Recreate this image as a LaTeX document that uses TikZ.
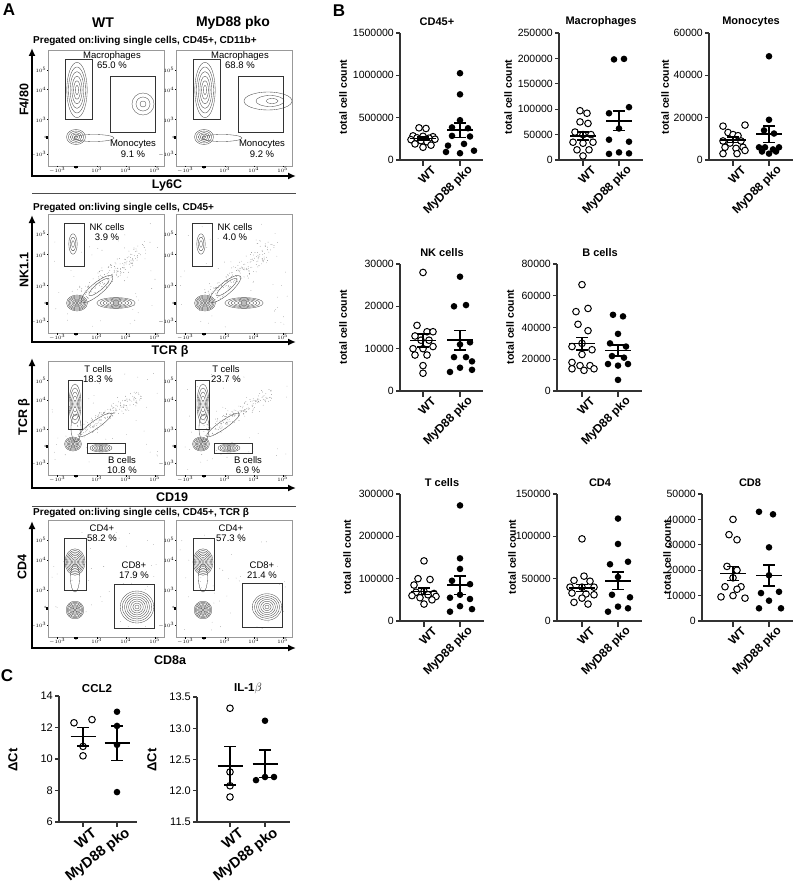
\documentclass[tikz,border=0pt]{standalone}
\usepackage{fontspec}
\setmainfont{Liberation Sans}
\usetikzlibrary{arrows.meta}

\tikzset{
  panellab/.style={inner sep=0pt, font=\fontsize{17}{17}\selectfont\bfseries},
  grouphead/.style={inner sep=0pt, font=\fontsize{14}{14}\selectfont\bfseries},
  pregate/.style={anchor=west, inner sep=0pt, font=\fontsize{10}{10}\selectfont\bfseries},
  flowlab/.style={inner sep=0pt, font=\fontsize{12.5}{12.5}\selectfont\bfseries},
  gatelab/.style={align=center, inner sep=0pt, font=\fontsize{9.5}{10.5}\selectfont},
  flowtick/.style={inner sep=0.4pt, font=\fontsize{3}{3}\selectfont},
  plotbox/.style={draw=black!40, line width=0.5pt},
  gatebox/.style={draw=black!80, line width=0.8pt},
  contour/.style={draw=black!70, line width=0.35pt},
  speck/.style={fill=black!55},
  flowaxis/.style={line width=2pt, {Latex[length=8pt,width=7pt]}-{Latex[length=8pt,width=7pt]}},
  divider/.style={draw=black!70, line width=0.8pt},
  charttitle/.style={inner sep=0pt, font=\fontsize{11}{11}\selectfont\bfseries},
  countlab/.style={rotate=90, inner sep=0pt, font=\fontsize{10.5}{10.5}\selectfont\bfseries},
  ticklab/.style={anchor=east, inner sep=0pt, font=\fontsize{10.5}{10.5}\selectfont},
  grouplab/.style={rotate=45, anchor=east, inner sep=0pt, font=\fontsize{12}{12}\selectfont\bfseries},
  qpcrlab/.style={rotate=38, anchor=east, inner sep=0pt, font=\fontsize{14.5}{14.5}\selectfont\bfseries},
  chartaxis/.style={line width=1.2pt, draw=black!80},
  wtdot/.style={draw=black, fill=white, line width=1pt},
  kodot/.style={fill=black},
  meanline/.style={line width=1.6pt},
}

\begin{document}
\begin{tikzpicture}[x=1pt,y=-1pt]
\useasboundingbox (0,0) rectangle (794,896);
\fill[white] (0,0) rectangle (794,896);
%
% ================= A =================
\node[panellab] (pA) at (9,10) {A};
\node[grouphead] (hwt) at (103,23) {WT};
\node[grouphead] (hko) at (233,23) {MyD88 pko};
\node[pregate] (pre1) at (33,41) {Pregated on:living single cells, CD45+, CD11b+};
\node[pregate] (pre2) at (33,208) {Pregated on:living single cells, CD45+};
\node[pregate] (pre4) at (33,513) {Pregated on:living single cells, CD45+, TCR β};
\draw[divider] (32,193) -- (296,193);
\draw[divider] (32,506) -- (296,506);
%
% flow frames and ticks
\foreach \bx/\by/\bb [count=\p] in {48/50/166,176/50/166,48/214/333,176/214/333,48/361/475,176/361/475,48/520/637,176/520/637}{
  \draw[plotbox] (\bx,\by) rectangle ({\bx+116},\bb);
  \fill ({\bx+26},\bb) rectangle ++(4pt,-2pt);
  \fill (\bx,{\by+0.74*(\bb-\by)}) rectangle ++(-2pt,-3pt);
  \foreach \f/\lab [count=\n] in {0.08/$-10^3$,0.24/0,0.42/$10^3$,0.67/$10^4$,0.92/$10^5$}{
    \draw[line width=0.3pt] ({\bx+\f*116},\bb) -- ++(0pt,-1.5pt);
    \node[flowtick, below] (fx\p-\n) at ({\bx+\f*116},{\bb+1}) {\lab};
  }
  \foreach \f/\lab [count=\n] in {0.17/$10^5$,0.34/$10^4$,0.6/$10^3$,0.75/0,0.9/$-10^3$}{
    \draw[line width=0.3pt] (\bx,{\by+\f*(\bb-\by)}) -- ++(-1.5pt,0pt);
    \node[flowtick, left] (fy\p-\n) at ({\bx-1},{\by+\f*(\bb-\by)}) {\lab};
  }
}
%
% row 1: F4/80 vs Ly6C
\draw[flowaxis] (32,48) -- (32,176) -- (296,176);
\node[flowlab, rotate=90] (f480) at (24,100) {F4/80};
\node[flowlab] (ly6c) at (167,185) {Ly6C};
\foreach \s in {0,128}{
  \begin{scope}[shift={(\s,0)}]
  \foreach \k in {1,...,6} \draw[contour] (77,90) ellipse[x radius=1.7*\k, y radius=4.6*\k];
  \foreach \k in {1,...,5} \draw[contour] (76,137) ellipse[x radius=1.9*\k, y radius=1.5*\k];
  \draw[contour] (94,138) ellipse[x radius=20, y radius=3.5];
  \end{scope}
}
\foreach \r in {3,7,11} \draw[contour] (143,104) circle[radius=\r];
\draw[contour] (268,101) ellipse[x radius=24, y radius=9];
\draw[contour] (270,101) ellipse[x radius=14, y radius=5.5];
\draw[contour] (272,101) ellipse[x radius=6, y radius=2.5];
\draw[gatebox] (65,59) rectangle (92,119);
\draw[gatebox] (110,76) rectangle (155,132);
\draw[gatebox] (193,59) rectangle (220,119);
\draw[gatebox] (238,76) rectangle (283,132);
\node[gatelab] (macwt) at (112,60) {Macrophages\\65.0 \%};
\node[gatelab] (monwt) at (133,149) {Monocytes\\9.1 \%};
\node[gatelab] (macko) at (240,60) {Macrophages\\68.8 \%};
\node[gatelab] (monko) at (262,149) {Monocytes\\9.2 \%};
%
% row 2: NK1.1 vs TCR beta
\draw[flowaxis] (32,215) -- (32,342) -- (296,342);
\node[flowlab, rotate=90] (nk11) at (24,270) {NK1.1};
\node[flowlab] (tcrx) at (170,351) {TCR β};
\pgfmathsetseed{11}
\foreach \s in {0,128}{
  \foreach \i in {1,...,170}{
    \pgfmathsetmacro\ta{rnd}
    \pgfmathsetmacro\px{\s+82+62*\ta+7*rand}
    \pgfmathsetmacro\py{296-48*\ta+8*rand}
    \fill[speck] (\px,\py) circle[radius=0.35pt];
  }
  \foreach \i in {1,...,50}{
    \pgfmathsetmacro\px{\s+52+108*rnd}
    \pgfmathsetmacro\py{222+105*rnd}
    \fill[speck] (\px,\py) circle[radius=0.3pt];
  }
  \begin{scope}[shift={(\s,0)}]
  \foreach \k in {1,...,3} \draw[contour] (73,244) ellipse[x radius=1.4*\k, y radius=3.4*\k];
  \foreach \k in {1,...,8} \draw[contour] (77,303) ellipse[x radius=1.3*\k, y radius=1*\k];
  \foreach \k in {1,...,6} \draw[contour] (116,303) ellipse[x radius=3.2*\k, y radius=0.9*\k];
  \draw[contour, rotate around={40:(97,289)}] (97,289) ellipse[x radius=20, y radius=6];
  \draw[contour, rotate around={40:(99,287)}] (99,287) ellipse[x radius=13, y radius=3.5];
  \end{scope}
}
\draw[gatebox] (64,223) rectangle (84,266);
\draw[gatebox] (192,223) rectangle (212,266);
\node[gatelab] (nkwt) at (107,232) {NK cells\\3.9 \%};
\node[gatelab] (nkko) at (235,232) {NK cells\\4.0 \%};
%
% row 3: TCR beta vs CD19
\draw[flowaxis] (32,358) -- (32,488) -- (296,488);
\node[flowlab, rotate=90] (tcry) at (24,417) {TCR β};
\node[flowlab] (cd19) at (172,497) {CD19};
\pgfmathsetseed{23}
\foreach \s in {0,128}{
  \foreach \i in {1,...,170}{
    \pgfmathsetmacro\ta{rnd}
    \pgfmathsetmacro\px{\s+80+60*\ta+6*rand}
    \pgfmathsetmacro\py{432-38*\ta+6*rand}
    \fill[speck] (\px,\py) circle[radius=0.35pt];
  }
  \foreach \i in {1,...,40}{
    \pgfmathsetmacro\px{\s+52+108*rnd}
    \pgfmathsetmacro\py{370+100*rnd}
    \fill[speck] (\px,\py) circle[radius=0.3pt];
  }
  \begin{scope}[shift={(\s,0)}]
  \foreach \k in {1,...,5} \draw[contour] (75,404) ellipse[x radius=1.2*\k, y radius=4*\k];
  \foreach \k in {1,...,7} \draw[contour] (73,444) ellipse[x radius=1.2*\k, y radius=1*\k];
  \foreach \k in {1,...,5} \draw[contour] (101,448) ellipse[x radius=2.2*\k, y radius=0.8*\k];
  \draw[contour] (76,428) ellipse[x radius=5, y radius=14];
  \draw[contour, rotate around={35:(95,425)}] (95,425) ellipse[x radius=20, y radius=4];
  \end{scope}
}
\draw[gatebox] (68,380) rectangle (82,429);
\draw[gatebox] (87,443) rectangle (125,453);
\draw[gatebox] (195,380) rectangle (209,429);
\draw[gatebox] (214,443) rectangle (252,453);
\node[gatelab] (tcwt) at (98,374) {T cells\\18.3 \%};
\node[gatelab] (bcwt) at (122,465) {B cells\\10.8 \%};
\node[gatelab] (tcko) at (226,374) {T cells\\23.7 \%};
\node[gatelab] (bcko) at (248,465) {B cells\\6.9 \%};
%
% row 4: CD4 vs CD8a
\draw[flowaxis] (32,521) -- (32,648) -- (296,648);
\node[flowlab, rotate=90] (cd4y) at (22,567) {CD4};
\node[flowlab] (cd8x) at (170,660) {CD8a};
\pgfmathsetseed{37}
\foreach \s in {0,128}{
  \foreach \i in {1,...,45}{
    \pgfmathsetmacro\px{\s+52+108*rnd}
    \pgfmathsetmacro\py{530+100*rnd}
    \fill[speck] (\px,\py) circle[radius=0.3pt];
  }
  \begin{scope}[shift={(\s,0)}]
  \foreach \k in {1,...,8} \draw[contour] (75,562) ellipse[x radius=1.25*\k, y radius=1.65*\k];
  \draw[contour] (75,578) ellipse[x radius=4.5, y radius=14];
  \foreach \k in {1,...,8} \draw[contour] (75,610) ellipse[x radius=1.1*\k, y radius=1.1*\k];
  \end{scope}
}
\foreach \k in {1,...,8} \draw[contour] (137,607) ellipse[x radius=2.1*\k, y radius=2*\k];
\foreach \k in {1,...,7} \draw[contour] (267,607) ellipse[x radius=2.1*\k, y radius=1.9*\k];
\draw[gatebox] (64,538) rectangle (86,590);
\draw[gatebox] (114,584) rectangle (154,628);
\draw[gatebox] (193,538) rectangle (214,590);
\draw[gatebox] (242,583) rectangle (282,627);
\node[gatelab] (cd4wt) at (102,533) {CD4+\\58.2 \%};
\node[gatelab] (cd8wt) at (134,570) {CD8+\\17.9 \%};
\node[gatelab] (cd4ko) at (231,533) {CD4+\\57.3 \%};
\node[gatelab] (cd8ko) at (262,570) {CD8+\\21.4 \%};
%
% ================= B =================
\node[panellab] (pB) at (339,11) {B};
%
% CD45+
\node[charttitle] (tcd45) at (437,22) {CD45+};
\node[countlab] (ycd45) at (343,97) {total cell count};
\begin{scope}[shift={(400,160)},y=0.084667pt]
\draw[chartaxis] (0,1500) -- (0,0) -- (83,0);
\foreach \v/\lab [count=\n] in {0/0,500/500000,1000/1000000,1500/1500000}{
  \draw[chartaxis] (0,\v) -- ++(-4pt,0pt);
  \node[ticklab] (cd45t\n) at (-6,\v) {\lab};
}
\draw[chartaxis] (23,0) -- ++(0pt,-6pt) (60,0) -- ++(0pt,-6pt);
\node[grouplab, yshift=-11pt] (cd45wt) at (26,0) {WT};
\node[grouplab, yshift=-11pt] (cd45ko) at (63,0) {MyD88 pko};
\foreach \dx/\v in {-4/380,3/372,-10/285,0/280,10/275,-6/262,6/258,-12/240,12/245,-2/228,4/215,-8/190,8/175,0/150}
  \draw[wtdot] (23+\dx,\v) circle[radius=3.3pt];
\foreach \dx/\v in {0/1025,0/775,0/470,-8/385,8/375,-8/285,10/278,-12/170,4/190,-14/95,14/110,0/80}
  \fill[kodot] (60+\dx,\v) circle[radius=3.3pt];
\draw[meanline] (10,254) -- (36,254) (23,236) -- (23,272) (17,236) -- (29,236) (17,272) -- (29,272);
\draw[meanline] (47,353) -- (73,353) (60,268) -- (60,438) (54,268) -- (66,268) (54,438) -- (66,438);
\end{scope}
%
% Macrophages
\node[charttitle] (tmac) at (601,22) {Macrophages};
\node[countlab] (ymac) at (508,97) {total cell count};
\begin{scope}[shift={(559,160)},y=0.508pt]
\draw[chartaxis] (0,250) -- (0,0) -- (84,0);
\foreach \v/\lab [count=\n] in {0/0,50/50000,100/100000,150/150000,200/200000,250/250000}{
  \draw[chartaxis] (0,\v) -- ++(-4pt,0pt);
  \node[ticklab] (mact\n) at (-6,\v) {\lab};
}
\draw[chartaxis] (24,0) -- ++(0pt,-6pt) (60,0) -- ++(0pt,-6pt);
\node[grouplab, yshift=-11pt] (macwtx) at (27,0) {WT};
\node[grouplab, yshift=-11pt] (packox) at (63,0) {MyD88 pko};
\foreach \dx/\v in {-3/97,4/92,-3/75,5/72,-8/55,0/50,8/50,-10/35,0/33,10/35,-6/20,6/20,0/8}
  \draw[wtdot] (24+\dx,\v) circle[radius=3.3pt];
\foreach \dx/\v in {-5/198,5/199,10/104,-10/92,0/62,-10/40,10/36,-10/12,0/15,10/13}
  \fill[kodot] (60+\dx,\v) circle[radius=3.3pt];
\draw[meanline] (11,47) -- (37,47) (24,39) -- (24,55) (18,39) -- (30,39) (18,55) -- (30,55);
\draw[meanline] (47,77) -- (73,77) (60,58) -- (60,96) (54,58) -- (66,58) (54,96) -- (66,96);
\end{scope}
%
% Monocytes
\node[charttitle] (tmon) at (751,22) {Monocytes};
\node[countlab] (ymon) at (665,97) {total cell count};
\begin{scope}[shift={(709,160)},y=2.11667pt]
\draw[chartaxis] (0,60) -- (0,0) -- (84,0);
\foreach \v/\lab [count=\n] in {0/0,20/20000,40/40000,60/60000}{
  \draw[chartaxis] (0,\v) -- ++(-4pt,0pt);
  \node[ticklab] (mont\n) at (-6,\v) {\lab};
}
\draw[chartaxis] (24,0) -- ++(0pt,-6pt) (60,0) -- ++(0pt,-6pt);
\node[grouplab, yshift=-11pt] (monwtx) at (27,0) {WT};
\node[grouplab, yshift=-11pt] (monkox) at (63,0) {MyD88 pko};
\foreach \dx/\v in {-10/16,12/16.5,-5/13,0/12,5/11.5,-10/9,-3/8,8/9,-8/6,3/5.5,10/6,-10/3,4/3,12/4.5}
  \draw[wtdot] (24+\dx,\v) circle[radius=3.3pt];
\foreach \dx/\v in {0/49,0/19,-5/14,5/12.5,-10/6,-4/6,4/5,10/6,-7/4,7/4,0/3}
  \fill[kodot] (60+\dx,\v) circle[radius=3.3pt];
\draw[meanline] (11,9.5) -- (37,9.5) (24,8.2) -- (24,10.8) (18,8.2) -- (30,8.2) (18,10.8) -- (30,10.8);
\draw[meanline] (47,12.2) -- (73,12.2) (60,8.3) -- (60,16.1) (54,8.3) -- (66,8.3) (54,16.1) -- (66,16.1);
\end{scope}
%
% NK cells
\node[charttitle] (tnk) at (442,253) {NK cells};
\node[countlab] (ynk) at (343,327) {total cell count};
\begin{scope}[shift={(400,391)},y=4.2333pt]
\draw[chartaxis] (0,30) -- (0,0) -- (83,0);
\foreach \v/\lab [count=\n] in {0/0,10/10000,20/20000,30/30000}{
  \draw[chartaxis] (0,\v) -- ++(-4pt,0pt);
  \node[ticklab] (nkt\n) at (-6,\v) {\lab};
}
\draw[chartaxis] (23,0) -- ++(0pt,-6pt) (60,0) -- ++(0pt,-6pt);
\node[grouplab, yshift=-11pt] (nkwtx) at (26,0) {WT};
\node[grouplab, yshift=-11pt] (nkkox) at (63,0) {MyD88 pko};
\foreach \dx/\v in {0/28,-6/15.5,4/14,10/14,-8/13,-2/12,6/12,-10/10,0/10,10/10.5,-8/8.5,4/8.5,0/6,0/4.2}
  \draw[wtdot] (23+\dx,\v) circle[radius=3.3pt];
\foreach \dx/\v in {0/27,-6/20,6/20.3,10/11.5,0/11,-6/8,6/8,12/7,-10/4.5,0/5.5,12/5}
  \fill[kodot] (60+\dx,\v) circle[radius=3.3pt];
\draw[meanline] (10,11.9) -- (36,11.9) (23,10.4) -- (23,13.4) (17,10.4) -- (29,10.4) (17,13.4) -- (29,13.4);
\draw[meanline] (47,12) -- (73,12) (60,9.7) -- (60,14.3) (54,9.7) -- (66,9.7) (54,14.3) -- (66,14.3);
\end{scope}
%
% B cells
\node[charttitle] (tbc) at (600,253) {B cells};
\node[countlab] (ybc) at (510,327) {total cell count};
\begin{scope}[shift={(557,391)},y=1.5875pt]
\draw[chartaxis] (0,80) -- (0,0) -- (85,0);
\foreach \v/\lab [count=\n] in {0/0,20/20000,40/40000,60/60000,80/80000}{
  \draw[chartaxis] (0,\v) -- ++(-4pt,0pt);
  \node[ticklab] (bct\n) at (-6,\v) {\lab};
}
\draw[chartaxis] (25,0) -- ++(0pt,-6pt) (61,0) -- ++(0pt,-6pt);
\node[grouplab, yshift=-11pt] (bcwtx) at (28,0) {WT};
\node[grouplab, yshift=-11pt] (bckox) at (64,0) {MyD88 pko};
\foreach \dx/\v in {0/67,-6/50,6/52,-4/42,6/38,0/30,-10/28,10/26,0/23,-10/18,-2/16,8/16,-10/14,2/13,12/14}
  \draw[wtdot] (25+\dx,\v) circle[radius=3.3pt];
\foreach \dx/\v in {-5/48,5/47,0/36,-8/30,8/28,-6/22,6/21,-10/17,0/16,10/17,0/7}
  \fill[kodot] (61+\dx,\v) circle[radius=3.3pt];
\draw[meanline] (12,29.8) -- (38,29.8) (25,26) -- (25,33.7) (19,26) -- (31,26) (19,33.7) -- (31,33.7);
\draw[meanline] (48,25.5) -- (74,25.5) (61,22) -- (61,29) (55,22) -- (67,22) (55,29) -- (67,29);
\end{scope}
%
% T cells
\node[charttitle] (ttc) at (442,483) {T cells};
\node[countlab] (ytc) at (347,557) {total cell count};
\begin{scope}[shift={(400,621)},y=0.42333pt]
\draw[chartaxis] (0,300) -- (0,0) -- (84,0);
\foreach \v/\lab [count=\n] in {0/0,100/100000,200/200000,300/300000}{
  \draw[chartaxis] (0,\v) -- ++(-4pt,0pt);
  \node[ticklab] (tct\n) at (-6,\v) {\lab};
}
\draw[chartaxis] (24,0) -- ++(0pt,-6pt) (60,0) -- ++(0pt,-6pt);
\node[grouplab, yshift=-11pt] (tcwtx) at (27,0) {WT};
\node[grouplab, yshift=-11pt] (tckox) at (63,0) {MyD88 pko};
\foreach \dx/\v in {0/142,-6/100,6/98,-10/85,0/70,10/65,-8/68,4/62,-12/60,12/58,-4/55,8/50,0/40}
  \draw[wtdot] (24+\dx,\v) circle[radius=3.3pt];
\foreach \dx/\v in {0/273,0/148,0/123,-8/95,10/87,-10/55,10/52,0/62,-10/22,0/35,12/28}
  \fill[kodot] (60+\dx,\v) circle[radius=3.3pt];
\draw[meanline] (11,70) -- (37,70) (24,63) -- (24,78) (18,63) -- (30,63) (18,78) -- (30,78);
\draw[meanline] (47,85) -- (73,85) (60,63) -- (60,107) (54,63) -- (66,63) (54,107) -- (66,107);
\end{scope}
%
% CD4
\node[charttitle] (tcd4) at (600,483) {CD4};
\node[countlab] (ycd4) at (512,557) {total cell count};
\begin{scope}[shift={(557,621)},y=0.84667pt]
\draw[chartaxis] (0,150) -- (0,0) -- (85,0);
\foreach \v/\lab [count=\n] in {0/0,50/50000,100/100000,150/150000}{
  \draw[chartaxis] (0,\v) -- ++(-4pt,0pt);
  \node[ticklab] (cd4t\n) at (-6,\v) {\lab};
}
\draw[chartaxis] (25,0) -- ++(0pt,-6pt) (61,0) -- ++(0pt,-6pt);
\node[grouplab, yshift=-11pt] (cd4wtx) at (28,0) {WT};
\node[grouplab, yshift=-11pt] (cd4kox) at (64,0) {MyD88 pko};
\foreach \dx/\v in {0/97,2/53,-8/48,8/47,-12/40,0/40,12/40,-10/33,4/32,12/31,-8/22,6/20,0/27}
  \draw[wtdot] (25+\dx,\v) circle[radius=3.3pt];
\foreach \dx/\v in {0/121,0/91,-8/67,10/70,0/52,-6/31,12/28,-10/11,0/17,10/15}
  \fill[kodot] (61+\dx,\v) circle[radius=3.3pt];
\draw[meanline] (12,39) -- (38,39) (25,35) -- (25,43) (19,35) -- (31,35) (19,43) -- (31,43);
\draw[meanline] (48,47) -- (74,47) (61,37) -- (61,58) (55,37) -- (67,37) (55,58) -- (67,58);
\end{scope}
%
% CD8
\node[charttitle] (tcd8) at (750,483) {CD8};
\node[countlab] (ycd8) at (667,557) {total cell count};
\begin{scope}[shift={(702,621)},y=2.54pt]
\draw[chartaxis] (0,50) -- (0,0) -- (91,0);
\foreach \v/\lab [count=\n] in {0/0,10/10000,20/20000,30/30000,40/40000,50/50000}{
  \draw[chartaxis] (0,\v) -- ++(-4pt,0pt);
  \node[ticklab] (cd8t\n) at (-6,\v) {\lab};
}
\draw[chartaxis] (31,0) -- ++(0pt,-6pt) (67,0) -- ++(0pt,-6pt);
\node[grouplab, yshift=-11pt] (cd8wtx) at (34,0) {WT};
\node[grouplab, yshift=-11pt] (cd8kox) at (70,0) {MyD88 pko};
\foreach \dx/\v in {0/40,-4/34,4/32,-6/21.5,4/20,0/17,-8/13.5,8/13.5,-12/9.5,0/10,12/9,4/12.5}
  \draw[wtdot] (31+\dx,\v) circle[radius=3.3pt];
\foreach \dx/\v in {-10/43,4/42,0/29,0/18,-8/11,10/11.5,0/8,-10/5,12/5}
  \fill[kodot] (67+\dx,\v) circle[radius=3.3pt];
\draw[meanline] (18,18.7) -- (44,18.7) (31,15.9) -- (31,21.5) (25,15.9) -- (37,15.9) (25,21.5) -- (37,21.5);
\draw[meanline] (54,17.9) -- (80,17.9) (67,13.7) -- (67,22.1) (61,13.7) -- (73,13.7) (61,22.1) -- (73,22.1);
\end{scope}
%
% ================= C =================
\node[panellab] (pC) at (7,676) {C};
%
% CCL2
\node[charttitle, font=\fontsize{11.5}{11.5}\selectfont\bfseries] (tccl) at (97,689) {CCL2};
\node[countlab, font=\fontsize{13}{13}\selectfont\bfseries] (yccl) at (13,760) {ΔCt};
\begin{scope}[shift={(59,916.5)},y=15.75pt]
\draw[chartaxis] (0,14) -- (0,6) -- (78,6);
\foreach \v [count=\n] in {6,8,10,12,14}{
  \draw[chartaxis] (0,\v) -- ++(-4pt,0pt);
  \node[ticklab, font=\fontsize{11}{11}\selectfont] (cclt\n) at (-6,\v) {\v};
}
\draw[chartaxis] (24,6) -- ++(0pt,-5pt) (58,6) -- ++(0pt,-5pt);
\node[qpcrlab, yshift=-12pt] (cclwt) at (28,6) {WT};
\node[qpcrlab, yshift=-12pt] (cclko) at (62,6) {MyD88 pko};
\foreach \dx/\v in {-9/12.3,9/12.5,0/10.8,0/10.2}
  \draw[wtdot] (24+\dx,\v) circle[radius=3.3pt];
\foreach \dx/\v in {0/13,0/12.1,0/10.9,0/7.9}
  \fill[kodot] (58+\dx,\v) circle[radius=3.3pt];
\draw[meanline] (11.5,11.42) -- (36.5,11.42) (24,10.84) -- (24,11.99) (18,10.84) -- (30,10.84) (18,11.99) -- (30,11.99);
\draw[meanline] (45.5,11.03) -- (70.5,11.03) (58,9.9) -- (58,12.1) (52,9.9) -- (64,9.9) (52,12.1) -- (64,12.1);
\end{scope}
%
% IL-1beta
\node[charttitle, font=\fontsize{11.5}{11.5}\selectfont\bfseries] (til) at (248,688) {IL-1$\beta$};
\node[countlab, font=\fontsize{13}{13}\selectfont\bfseries] (yil) at (152,760) {ΔCt};
\begin{scope}[shift={(197,1540.75)},y=62.5pt]
\draw[chartaxis] (0,13.5) -- (0,11.5) -- (93,11.5);
\foreach \v/\lab [count=\n] in {11.5/11.5,12/12.0,12.5/12.5,13/13.0,13.5/13.5}{
  \draw[chartaxis] (0,\v) -- ++(-4pt,0pt);
  \node[ticklab, font=\fontsize{11}{11}\selectfont] (ilt\n) at (-6,\v) {\lab};
}
\draw[chartaxis] (33,11.5) -- ++(0pt,-5pt) (68,11.5) -- ++(0pt,-5pt);
\node[qpcrlab, yshift=-12pt] (ilwt) at (37,11.5) {WT};
\node[qpcrlab, yshift=-12pt] (ilko) at (72,11.5) {MyD88 pko};
\foreach \dx/\v in {0/13.32,0/12.3,0/12.08,0/11.9}
  \draw[wtdot] (33+\dx,\v) circle[radius=3.3pt];
\foreach \dx/\v in {0/13.12,-9/12.17,0/12.22,9/12.22}
  \fill[kodot] (68+\dx,\v) circle[radius=3.3pt];
\draw[meanline] (20.5,12.4) -- (45.5,12.4) (33,12.09) -- (33,12.71) (27,12.09) -- (39,12.09) (27,12.71) -- (39,12.71);
\draw[meanline] (55.5,12.43) -- (80.5,12.43) (68,12.21) -- (68,12.65) (62,12.21) -- (74,12.21) (62,12.65) -- (74,12.65);
\end{scope}
\end{tikzpicture}
\end{document}
